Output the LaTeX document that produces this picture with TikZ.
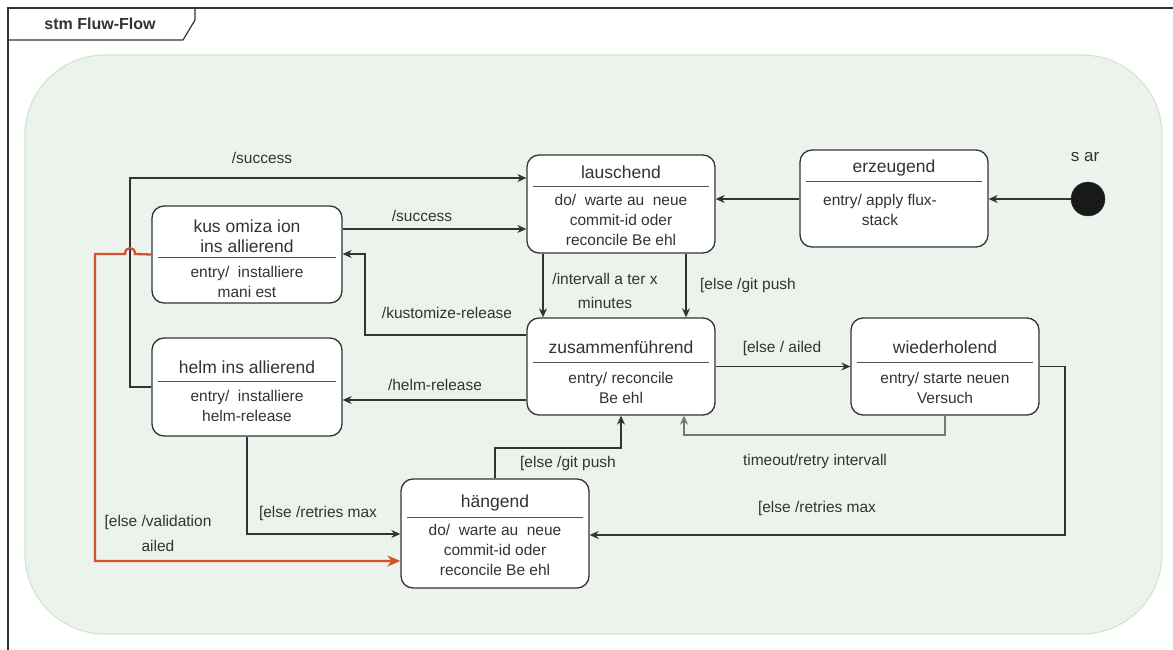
\documentclass[tikz,border=0pt]{standalone}
\usepackage{fontspec}
\setmainfont{Liberation Sans}
\usetikzlibrary{arrows.meta}
\definecolor{ink}{HTML}{333333}
\definecolor{regionfill}{HTML}{ECF3EC}
\definecolor{regionline}{HTML}{D3E6CD}
\definecolor{retryline}{HTML}{777777}
\definecolor{failred}{HTML}{D4512E}
\begin{document}
\begin{tikzpicture}[x=1pt,y=-1pt,
  state/.style={draw=ink, line width=1.3pt, fill=white, rounded corners=12pt, inner sep=0pt},
  ttl/.style={text=ink, font=\fontsize{17.5}{20}\selectfont, align=center, inner sep=0pt},
  txt/.style={text=ink, font=\fontsize{15.5}{20}\selectfont, align=center, inner sep=0pt},
  sepline/.style={draw=ink!85, line width=1pt},
  conn/.style={draw=ink, line width=1.1pt, -{Stealth[length=9pt,width=8pt]}},
  retry/.style={draw=retryline, line width=1.3pt, -{Stealth[length=9pt,width=8pt]}},
  failpath/.style={draw=failred, line width=2.3pt, -{Stealth[length=13pt,width=11pt]}}
]
\useasboundingbox (0,0) rectangle (1173,650);
\fill[white] (0,0) rectangle (1173,650);

% diagram frame with its name tab
\draw[ink, line width=1.2pt] (8,660) -- (8,8) -- (1190,8);
\draw[ink, line width=1.2pt] (8,8) -- (195,8) -- (195,20) -- (183,40) -- (8,40);
\node[text=ink, font=\fontsize{16}{18}\selectfont\bfseries, inner sep=0pt] (frametitle) at (100,24) {stm Fluw-Flow};

% composite region
\draw[regionline, fill=regionfill, line width=1.2pt, rounded corners=80pt] (25,55) rectangle (1162,634);

% states
\node[state, minimum width=188pt, minimum height=98pt] (laus) at (621,204) {};
\node[state, minimum width=188pt, minimum height=97pt] (erz) at (894,198.5) {};
\node[state, minimum width=190pt, minimum height=97pt] (kus) at (247,254.5) {};
\node[state, minimum width=190pt, minimum height=98pt] (helm) at (247,387) {};
\node[state, minimum width=188pt, minimum height=97pt] (zus) at (621,366.5) {};
\node[state, minimum width=188pt, minimum height=97pt] (wied) at (945,366.5) {};
\node[state, minimum width=188pt, minimum height=109pt] (haeng) at (495,533.5) {};
\node[circle, fill=black!90, draw=ink, minimum size=34pt, inner sep=0pt] (start) at (1088,199) {};
\node[text=ink, font=\fontsize{17}{20}\selectfont, inner sep=0pt] (startlbl) at (1085,157) {s ar};

% state compartments
\node[ttl] (lausT) at (621,172) {lauschend};
\draw[sepline] (533,186) -- (709,186);
\node[txt] (lausB) at (621,220) {do/\ \ warte au\ \ neue\\commit-id oder\\reconcile Be ehl};

\node[ttl] (erzT) at (894,168) {erzeugend};
\draw[sepline] (806,182) -- (982,182);
\node[txt] (erzB) at (880,210) {entry/ apply flux-\\stack};

\node[ttl] (kusT) at (247,236) {kus omiza ion\\ins allierend};
\draw[sepline] (158,257) -- (336,257);
\node[txt] (kusB) at (247,281.5) {entry/\ \ installiere\\mani est};

\node[ttl] (helmT) at (247,367) {helm ins allierend};
\draw[sepline] (158,381) -- (336,381);
\node[txt] (helmB) at (247,405.5) {entry/\ \ installiere\\helm-release};

\node[ttl] (zusT) at (621,347) {zusammenführend};
\draw[sepline] (533,362) -- (709,362);
\node[txt] (zusB) at (621,387.5) {entry/ reconcile\\Be ehl};

\node[ttl] (wiedT) at (945,347) {wiederholend};
\draw[sepline] (857,362) -- (1033,362);
\node[txt] (wiedB) at (945,387.5) {entry/ starte neuen\\Versuch};

\node[ttl] (haengT) at (495,503) {hängend};
\draw[sepline] (407,517) -- (583,517);
\node[txt] (haengB) at (495,550) {do/\ \ warte au\ \ neue\\commit-id oder\\reconcile Be ehl};

% transitions
\draw[conn] (start.west) -- (start.west -| erz.east);
\draw[conn] (erz.west |- 0,199) -- (laus.east |- 0,199);
\draw[conn] (kus.east |- 0,229) -- (laus.west |- 0,229);
\draw[conn] (helm.west) -- (130,387) -- (130,178) -- (laus.west |- 0,178);
\draw[conn] (laus.south -| 543,0) -- (zus.north -| 543,0);
\draw[conn] (laus.south -| 686,0) -- (zus.north -| 686,0);
\draw[conn] (zus.west |- 0,335) -- (365,335) -- (365,254) -- (kus.east |- 0,254);
\draw[conn] (zus.west |- 0,400) -- (helm.east |- 0,400);
\draw[conn] (zus.east) -- (wied.west);
\draw[retry] (wied.south) -- (945,435) -- (684,435) -- (zus.south -| 684,0);
\draw[conn] (wied.east) -- (1065,366.5) -- (1065,535) -- (haeng.east |- 0,535);
\draw[conn] (haeng.north) -- (495,448) -- (621,448) -- (zus.south -| 621,0);
\draw[conn] (helm.south) -- (247,534) -- (haeng.west |- 0,534);
\draw[failpath] (kus.west) -- (135,254) .. controls (135,246) and (125,246) .. (125,254)
  -- (95,254) -- (95,561) -- (haeng.west |- 0,561);

% transition labels
\node[txt] (l1) at (262,158) {/success};
\node[txt] (l2) at (422,216) {/success};
\node[txt] (l3) at (605,291) {/intervall a ter x\\[4pt]minutes};
\node[txt] (l4) at (748,285) {[else /git push};
\node[txt] (l5) at (447,313) {/kustomize-release};
\node[txt] (l6) at (435,385) {/helm-release};
\node[txt] (l7) at (782,348) {[else / ailed};
\node[txt] (l8) at (815,461) {timeout/retry intervall};
\node[txt] (l9) at (817,508) {[else /retries max};
\node[txt] (l10) at (568,463) {[else /git push};
\node[txt] (l11) at (318,513) {[else /retries max};
\node[txt] (l12) at (158,533) {[else /validation\\[5pt]ailed};
\end{tikzpicture}
\end{document}
